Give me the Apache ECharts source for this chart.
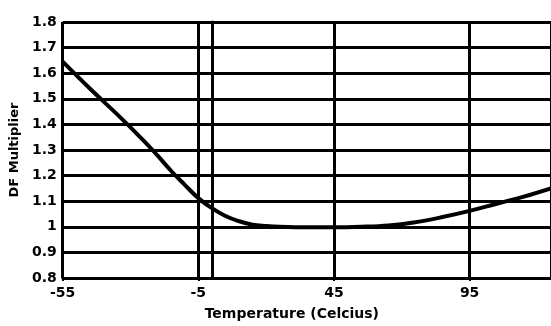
<!DOCTYPE html>
<html>
<head>
<meta charset="utf-8">
<script src="https://cdn.jsdelivr.net/npm/echarts@6/dist/echarts.min.js"></script>
<style>
  html, body { margin: 0; padding: 0; background: #fff; }
  #chart { width: 551px; height: 326px; }
</style>
</head>
<body>
<div id="chart"></div>
<script>
// Temperature derating curve: DF multiplier vs temperature (°C)
const temps = [-55, -45, -35, -25, -20, -15, -10, -5, 0, 5, 10, 15, 20, 25, 35, 45, 55, 65, 75, 85, 95, 105, 115, 125];
const multipliers = [1.645, 1.54, 1.44, 1.335, 1.278, 1.218, 1.164, 1.112, 1.073, 1.042, 1.022, 1.008, 1.003, 1.0, 0.998, 0.998, 1.0, 1.005, 1.018, 1.038, 1.062, 1.09, 1.118, 1.15];

// Axis settings
const xMin = -55, xMax = 125, xStep = 50;
const yMin = 0.8, yMax = 1.8, yStep = 0.1;
const referenceTemp = 0; // freezing point marker

const points = temps.map((t, i) => [t, multipliers[i]]);

const font = '"DejaVu Sans", "Liberation Sans", Arial, sans-serif';
const chart = echarts.init(document.getElementById('chart'), null, { renderer: 'canvas' });

chart.setOption({
  animation: false,
  backgroundColor: '#ffffff',
  grid: { left: 62, right: -2, top: 22, bottom: 48, containLabel: false },
  xAxis: {
    type: 'value',
    min: xMin,
    max: xMax,
    interval: xStep,
    name: 'Temperature (Celcius)',
    nameLocation: 'middle',
    nameGap: 29,
    nameTextStyle: { color: '#000', fontFamily: font, fontWeight: 'bold', fontSize: 14, padding: [0, 30, 0, 0] },
    axisLine: { show: true, lineStyle: { color: '#000', width: 2.5 } },
    axisTick: { show: true, length: 3, lineStyle: { color: '#000', width: 2 } },
    axisLabel: { color: '#000', fontFamily: font, fontWeight: 'bold', fontSize: 14, margin: 8, showMaxLabel: false },
    splitLine: { show: true, lineStyle: { color: '#000', width: 3 } }
  },
  yAxis: {
    type: 'value',
    min: yMin,
    max: yMax,
    interval: yStep,
    name: 'DF Multiplier',
    nameLocation: 'middle',
    nameGap: 40,
    nameTextStyle: { color: '#000', fontFamily: font, fontWeight: 'bold', fontSize: 13 },
    axisLine: { show: true, lineStyle: { color: '#000', width: 3 } },
    axisTick: { show: false },
    axisLabel: { color: '#000', fontFamily: font, fontWeight: 'bold', fontSize: 14, margin: 6 },
    splitLine: { show: true, lineStyle: { color: '#000', width: 3 } }
  },
  series: [{
    type: 'line',
    data: points,
    smooth: 0.4,
    showSymbol: false,
    lineStyle: { color: '#000', width: 4 },
    markLine: {
      silent: true,
      symbol: 'none',
      label: { show: false },
      lineStyle: { color: '#000', width: 2, type: 'solid' },
      data: [{ xAxis: referenceTemp }]
    }
  }]
});
</script>
</body>
</html>
